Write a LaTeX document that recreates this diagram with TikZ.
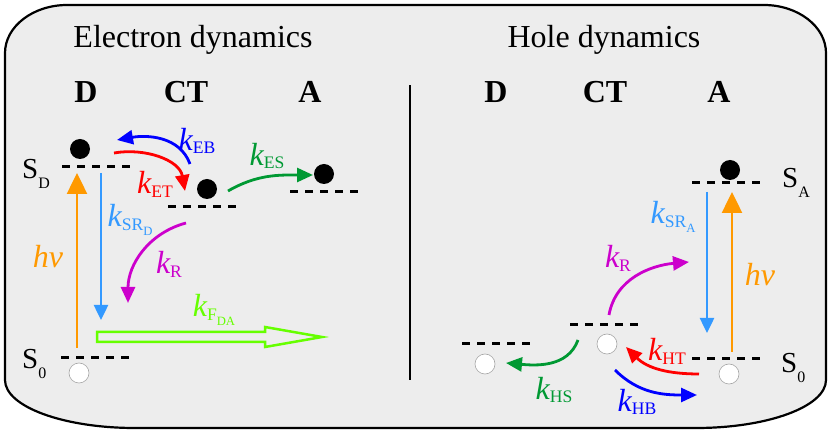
\documentclass[tikz,border=0pt]{standalone}
\usepackage{fontspec}
\setmainfont{Liberation Serif}
\usetikzlibrary{arrows.meta}
\definecolor{boxgray}{RGB}{237,237,237}
\definecolor{photonorange}{RGB}{255,153,0}
\definecolor{relaxblue}{RGB}{51,153,255}
\definecolor{backblue}{RGB}{0,0,255}
\definecolor{transred}{RGB}{255,0,0}
\definecolor{sepgreen}{RGB}{0,153,51}
\definecolor{recpurple}{RGB}{204,0,204}
\definecolor{fretlime}{RGB}{102,255,0}
\newcommand{\rsub}[2][0.55]{\raisebox{-0.12em}{\scalebox{#1}{#2}}}
\newcommand{\ssub}[2][0.55]{\raisebox{-0.33em}{\scalebox{#1}{#2}}}
\newcommand{\krate}[1]{{\itshape k}\rsub{#1}}

\begin{document}
\begin{tikzpicture}[x=1pt, y=1pt,
    every node/.style={font=\fontsize{32}{38}\selectfont},
    title/.style={anchor=base},
    head/.style={anchor=base, font=\fontsize{32}{38}\selectfont\bfseries},
    state/.style={anchor=base west, inner sep=0pt, font=\fontsize{29}{34}\selectfont},
    level/.style={line width=3pt, dash pattern=on 8pt off 7pt},
    full/.style={circle, fill=black, inner sep=0pt, minimum size=20pt},
    empty/.style={circle, draw=black!35, fill=white, line width=0.6pt, inner sep=0pt, minimum size=20pt},
    trans/.style={line width=2.8pt, -{Triangle[length=16pt,width=14pt]}},
    vert/.style={line width=2.5pt, relaxblue, -{Triangle[length=15pt,width=14pt]}},
    pump/.style={line width=2.5pt, photonorange, -{Triangle[length=21pt,width=20pt]}}]
  \useasboundingbox (0,0) rectangle (831,434);
  % frame
  \draw[line width=2.2pt, fill=boxgray] (5,381) .. controls (5,407.5) and (33,429) .. (67,429)
    -- (764,429) .. controls (798,429) and (826,407.5) .. (826,381)
    -- (826,54) .. controls (826,27.5) and (768,6) .. (696,6)
    -- (135,6) .. controls (63,6) and (5,27.5) .. (5,54) -- cycle;
  \draw[line width=2pt] (410,54) -- (410,349);

  \node[title] (etitle) at (193,386) {Electron dynamics};
  \node[title] (htitle) at (604,386) {Hole dynamics};
  \node[head] (eD) at (86,331) {D};
  \node[head] (eCT) at (186,331) {CT};
  \node[head] (eA) at (310,331) {A};
  \node[head] (hD) at (496,331) {D};
  \node[head] (hCT) at (605,331) {CT};
  \node[head] (hA) at (719,331) {A};

  % electron dynamics
  \draw[level] (62,267) -- (130,267);
  \draw[level] (168,227) -- (237,227);
  \draw[level] (290,242) -- (358,242);
  \draw[level] (61,76) -- (129,76);
  \node[state] (eSD) at (22,255) {S\ssub{D}};
  \node[state] (eS0) at (22,65) {S\ssub{0}};
  \node[full] (edotD) at (80,285) {};
  \node[full] (edotCT) at (207,245) {};
  \node[full] (edotA) at (324,260) {};
  \node[empty] (eholeD) at (79,61) {};

  \coordinate (hvEa) at (77,86);   \coordinate (hvEb) at (77,261);
  \coordinate (srDa) at (101,261); \coordinate (srDb) at (101,114);
  \coordinate (ebA) at (190,270);  \coordinate (ebB) at (117,294);
  \coordinate (etA) at (114,281);  \coordinate (etB) at (185,243);
  \coordinate (esA) at (228,243);  \coordinate (esB) at (313,259);
  \coordinate (rEa) at (186,211);  \coordinate (rEb) at (128,131);

  \draw[pump] (hvEa) -- (hvEb);
  \draw[vert] (srDa) -- (srDb);
  \draw[trans, backblue] (ebA) to[out=110, in=10] (ebB);
  \draw[trans, transred] (etA) to[out=10, in=100] (etB);
  \draw[trans, sepgreen] (esA) to[out=30, in=180] (esB);
  \draw[trans, recpurple] (rEa) to[out=195, in=90] (rEb);
  \draw[fretlime, line width=2.5pt, line join=miter] (97,92) -- (265,92) -- (265,87)
    -- (322,97) -- (265,107) -- (265,102) -- (97,102) -- cycle;

  \node[photonorange] (lhvE) at (48,177) {\itshape hν};
  \node[relaxblue] (lsrD) at (130,214) {\krate{SR\ssub[0.72]{D}}};
  \node[backblue] (leb) at (197,293) {\krate{EB}};
  \node[transred] (let) at (155,250) {\krate{ET}};
  \node[sepgreen] (les) at (267,278) {\krate{ES}};
  \node[recpurple] (lrE) at (169,170) {\krate{R}};
  \node[fretlime] (lfda) at (214,124) {\krate{F\ssub[0.72]{DA}}};

  % hole dynamics
  \draw[level] (692,251) -- (760,251);
  \draw[level] (692,75) -- (760,75);
  \draw[level] (570,109) -- (638,109);
  \draw[level] (462,90) -- (530,90);
  \node[state] (hSA) at (782,246) {S\ssub{A}};
  \node[state] (hS0) at (781,61) {S\ssub{0}};
  \node[full] (hdotA) at (730,264) {};
  \node[empty] (hholeA) at (729,60) {};
  \node[empty] (hholeCT) at (607,90) {};
  \node[empty] (hholeD) at (485,70) {};

  \coordinate (srAa) at (707,242); \coordinate (srAb) at (707,101);
  \coordinate (hvHa) at (732,82);  \coordinate (hvHb) at (732,242);
  \coordinate (rHa) at (609,119);  \coordinate (rHb) at (689,172);
  \coordinate (hsA) at (578,94);   \coordinate (hsB) at (506,71);
  \coordinate (htA) at (699,60);   \coordinate (htB) at (626,87);
  \coordinate (hbA) at (615,64);   \coordinate (hbB) at (697,39);

  \draw[vert] (srAa) -- (srAb);
  \draw[pump] (hvHa) -- (hvHb);
  \draw[trans, recpurple] (rHa) to[out=80, in=185] (rHb);
  \draw[trans, sepgreen] (hsA) to[out=250, in=-5] (hsB);
  \draw[trans, transred] (htA) to[out=180, in=-45] (htB);
  \draw[trans, backblue] (hbA) to[out=-45, in=180] (hbB);

  \node[relaxblue] (lsrA) at (673,217) {\krate{SR\ssub[0.72]{A}}};
  \node[photonorange] (lhvH) at (760,159) {\itshape hν};
  \node[recpurple] (lrH) at (618,176) {\krate{R}};
  \node[sepgreen] (lhs) at (554,44) {\krate{HS}};
  \node[transred] (lht) at (667,83) {\krate{HT}};
  \node[backblue] (lhb) at (637,32) {\krate{HB}};
\end{tikzpicture}
\end{document}
